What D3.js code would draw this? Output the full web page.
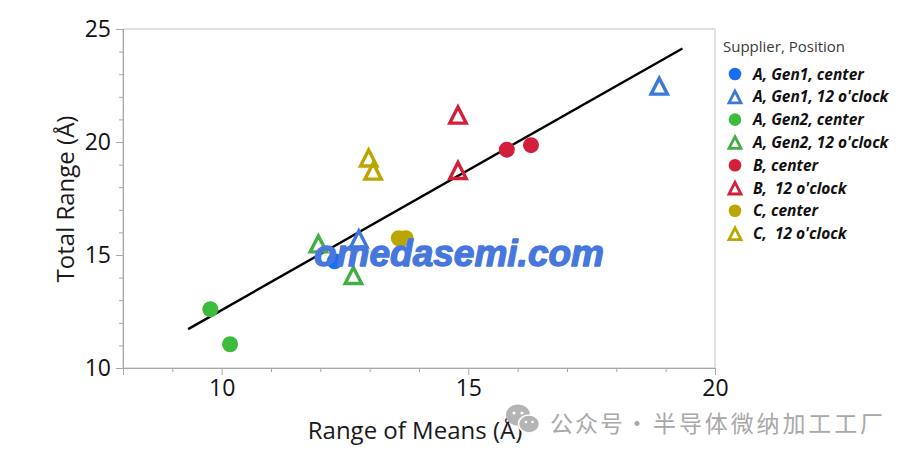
<!DOCTYPE html>
<html>
<head>
<meta charset="utf-8">
<script src="https://cdn.jsdelivr.net/npm/d3@7"></script>
<style>
  html, body { margin: 0; padding: 0; background: #fff; }
  svg { display: block; }
</style>
</head>
<body>
<svg id="chart" width="915" height="455"></svg>
<script>
// ---------- data ----------
const categories = [
  "A, Gen1, center", "A, Gen1, 12 o'clock",
  "A, Gen2, center", "A, Gen2, 12 o'clock",
  "B, center", "B,  12 o'clock",
  "C, center", "C,  12 o'clock"
];
const shapes = ["circle", "triangle", "circle", "triangle", "circle", "triangle", "circle", "triangle"];
const colors = ["#1a6ef0", "#3b78dc", "#3dbb3d", "#45ad45", "#d2203a", "#d2203a", "#bba600", "#bba600"];

// x = Range of Means (Å), y = Total Range (Å), per category
const seriesX = [
  [12.29],
  [12.78, 18.87],
  [9.77, 10.17],
  [11.96, 12.67],
  [15.78, 16.27],
  [14.79, 14.79],
  [13.59, 13.73],
  [12.98, 13.07]
];
const seriesY = [
  [14.72],
  [15.72, 22.48],
  [12.60, 11.05],
  [15.50, 14.10],
  [19.66, 19.86],
  [21.20, 18.75],
  [15.74, 15.74],
  [19.30, 18.72]
];

// fitted line endpoints
const fitX = [9.32, 19.34];
const fitY = [11.72, 24.14];

const xTicks = [10, 15, 20];
const yTicks = [10, 15, 20, 25];

// watermark texts
const watermarkSite = "omedasemi.com";
const watermarkParts = ["公众号", "·", "半导体微纳加工工厂"];

// ---------- layout ----------
(function () {
const svg = d3.select("#chart");
const pL = 123, pR = 715, pT = 29, pB = 368;
const x = d3.scaleLinear().domain([8, 20]).range([pL, pR]);
const y = d3.scaleLinear().domain([10, 25]).range([pB, pT]);
const font = "'Open Sans', 'Noto Sans', sans-serif";

// frame
svg.append("rect")
  .attr("x", pL).attr("y", pT)
  .attr("width", pR - pL).attr("height", pB - pT)
  .attr("fill", "none").attr("stroke", "#c4c4c4").attr("stroke-width", 1);

// minor ticks
const xMinor = d3.range(9, 20, 1).filter(v => !xTicks.includes(v));
const yMinor = d3.range(11, 25, 1).filter(v => !yTicks.includes(v));

const xAxisMinor = d3.axisBottom(x).tickValues(xMinor).tickSize(4).tickFormat("");
const yAxisMinor = d3.axisLeft(y).tickValues(yMinor).tickSize(4).tickFormat("");
const xAxis = d3.axisBottom(x).tickValues(xTicks).tickSize(7).tickPadding(5).tickFormat(d3.format("d"));
const yAxis = d3.axisLeft(y).tickValues(yTicks).tickSize(7).tickPadding(5).tickFormat(d3.format("d"));

function styleAxis(g) {
  g.select(".domain").attr("stroke", "#a8a8a8");
  g.selectAll(".tick line").attr("stroke", "#a8a8a8");
  g.selectAll(".tick text").attr("fill", "#111").style("font-family", font).style("font-size", "23px");
}

svg.append("g").attr("transform", `translate(0,${pB})`).call(xAxisMinor).call(styleAxis);
svg.append("g").attr("transform", `translate(${pL},0)`).call(yAxisMinor).call(styleAxis);
svg.append("g").attr("transform", `translate(0,${pB})`).call(xAxis).call(styleAxis);
svg.append("g").attr("transform", `translate(${pL},0)`).call(yAxis).call(styleAxis);

// axis titles
svg.append("text")
  .attr("x", 415).attr("y", 439)
  .attr("text-anchor", "middle")
  .style("font-family", font).style("font-size", "24px").attr("fill", "#1a1a1a")
  .text("Range of Means (Å)");
svg.append("text")
  .attr("transform", "translate(74,199) rotate(-90)")
  .attr("text-anchor", "middle")
  .style("font-family", font).style("font-size", "24px").attr("fill", "#1a1a1a")
  .text("Total Range (Å)");

// fit line
const fitData = fitX.map((v, i) => [v, fitY[i]]);
svg.append("path")
  .datum(fitData)
  .attr("d", d3.line().x(d => x(d[0])).y(d => y(d[1])))
  .attr("stroke", "#000").attr("stroke-width", 2.4).attr("fill", "none");

// markers
function triPath(s) {
  return `M0,${-s * 0.95}L${s},${s * 1.0}L${-s},${s * 1.0}Z`;
}
const points = [];
categories.forEach((c, i) => {
  seriesX[i].forEach((v, j) => points.push({ c: i, x: v, y: seriesY[i][j] }));
});
points.forEach(p => {
  const g = svg.append("g").attr("transform", `translate(${x(p.x)},${y(p.y)})`);
  if (shapes[p.c] === "circle") {
    g.append("circle").attr("r", 8).attr("fill", colors[p.c]);
  } else {
    g.append("path").attr("d", triPath(8.2))
      .attr("fill", "none").attr("stroke", colors[p.c])
      .attr("stroke-width", 3.4).attr("stroke-linejoin", "miter");
  }
});

// legend
const lg = svg.append("g");
lg.append("text")
  .attr("x", 723).attr("y", 52)
  .style("font-family", font).style("font-size", "15px").attr("fill", "#3a3a3a")
  .text("Supplier, Position");
categories.forEach((c, i) => {
  const cy = 74 + i * 22.8;
  const g = lg.append("g").attr("transform", `translate(735,${cy})`);
  if (shapes[i] === "circle") {
    g.append("circle").attr("r", 6.3).attr("fill", colors[i]);
  } else {
    g.append("path").attr("d", triPath(6))
      .attr("fill", "none").attr("stroke", colors[i])
      .attr("stroke-width", 2.8).attr("stroke-linejoin", "miter");
  }
  lg.append("text")
    .attr("x", 753).attr("y", cy + 5.5)
    .style("font-family", font).style("font-size", "15.5px")
    .style("font-weight", "bold").style("font-style", "italic")
    .style("white-space", "pre")
    .attr("fill", "#111")
    .text(c);
});

// watermarks
svg.append("text")
  .attr("x", 314).attr("y", 266)
  .attr("textLength", 290).attr("lengthAdjust", "spacingAndGlyphs")
  .style("font-family", "'Liberation Sans', Arial, sans-serif")
  .style("font-size", "37px").style("font-weight", "bold").style("font-style", "italic")
  .attr("fill", "#4677dd").attr("stroke", "#4677dd").attr("stroke-width", 1.3)
  .attr("stroke-linejoin", "round")
  .text(watermarkSite);

const wc = svg.append("g").attr("transform", "translate(523,419)").attr("fill", "#b4b4b4");
wc.append("ellipse").attr("cx", -5).attr("cy", -4).attr("rx", 12).attr("ry", 10.5);
wc.append("ellipse").attr("cx", 6).attr("cy", 5).attr("rx", 10.5).attr("ry", 9).attr("stroke", "#fff").attr("stroke-width", 1.5);
wc.append("circle").attr("cx", -9).attr("cy", -6).attr("r", 1.6).attr("fill", "#fff");
wc.append("circle").attr("cx", -1).attr("cy", -6).attr("r", 1.6).attr("fill", "#fff");
wc.append("circle").attr("cx", 3).attr("cy", 3).attr("r", 1.3).attr("fill", "#fff");
wc.append("circle").attr("cx", 9.5).attr("cy", 3).attr("r", 1.3).attr("fill", "#fff");

const cjk = "'Noto Sans CJK SC', sans-serif";
const wmPos = [{ x: 550, len: 73, anchor: "start" }, { x: 637, len: null, anchor: "middle" }, { x: 653, len: 230, anchor: "start" }];
watermarkParts.forEach((t, i) => {
  const tx = svg.append("text")
    .attr("x", wmPos[i].x).attr("y", 432)
    .attr("text-anchor", wmPos[i].anchor)
    .style("font-family", cjk)
    .style("font-size", "23px").attr("fill", "#a8a8a8")
    .text(t);
  if (wmPos[i].len) tx.attr("textLength", wmPos[i].len).attr("lengthAdjust", "spacing");
});
})();
</script>
</body>
</html>
